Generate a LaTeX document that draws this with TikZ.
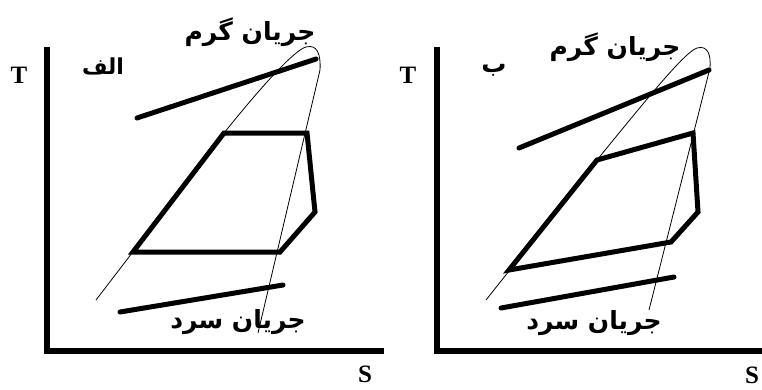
\documentclass[tikz,border=0pt]{standalone}
\usepackage{fontspec}
\usepackage{tikz}
\setmainfont{Liberation Serif}
\newfontfamily\arabicfont[Script=Arabic]{DejaVu Sans}
\TeXXeTstate=1
\tikzset{
  axisline/.style={line width=6pt},
  cycline/.style={line width=5pt,line join=miter},
  streamline/.style={line width=5pt,line cap=round},
  domeline/.style={line width=0.8pt},
  axlbl/.style={font=\bfseries\fontsize{25}{25}\selectfont,inner sep=0pt},
  farsi/.style={font=\arabicfont\bfseries\fontsize{25}{25}\selectfont,inner sep=0pt},
}
\begin{document}
\begin{tikzpicture}[x=1pt,y=-1pt]
  \useasboundingbox (0,0) rectangle (762,389);
  % panel alef
  \draw[axisline] (47,47) -- (47,351) -- (384,351);
  \node[axlbl] (tA) at (19,75) {T};
  \node[axlbl] (sA) at (365,374) {S};
  \node[farsi,font=\arabicfont\bfseries\fontsize{22}{22}\selectfont] (nameA) at (103,66) {\beginR الف\endR};
  \coordinate (a1) at (133,252);\coordinate (a2) at (224,133);\coordinate (a3) at (307,133);
  \coordinate (a4) at (315,212);\coordinate (a5) at (280,252);
  \draw[domeline] (96,300) -- (a2) .. controls (265,82) and (295,50) .. (306,47) .. controls (317,44) and (321,54) .. (320,70) -- (258,333);
  \draw[cycline] (a1) -- (a2) -- (a3) -- (a4) -- (a5) -- cycle;
  \draw[streamline] (137,118) -- (316,59);
  \draw[streamline] (120,312) -- (283,285);
  \node[farsi] (hotA) at (250,32) {\beginR جریان گرم\endR};
  \node[farsi] (coldA) at (238,322) {\beginR جریان سرد\endR};
  % panel be
  \draw[axisline] (437,47) -- (437,351) -- (762,351);
  \node[axlbl] (tB) at (408,75) {T};
  \node[axlbl] (sB) at (752,375) {S};
  \node[farsi] (nameB) at (494,70) {\beginR ب\endR};
  \coordinate (b1) at (509,270);\coordinate (b2) at (597,160);\coordinate (b3) at (693,133);
  \coordinate (b4) at (698,212);\coordinate (b5) at (671,242);
  \draw[domeline] (486,300) -- (b2) .. controls (650,95) and (685,52) .. (697,48) .. controls (708,45) and (711,55) .. (710,68) -- (649,310);
  \draw[cycline] (b1) -- (b2) -- (b3) -- (b4) -- (b5) -- cycle;
  \draw[streamline] (519,148) -- (709,70);
  \draw[streamline] (501,308) -- (674,277);
  \node[farsi] (hotB) at (615,47) {\beginR جریان گرم\endR};
  \node[farsi] (coldB) at (594,323) {\beginR جریان سرد\endR};
\end{tikzpicture}
\end{document}
